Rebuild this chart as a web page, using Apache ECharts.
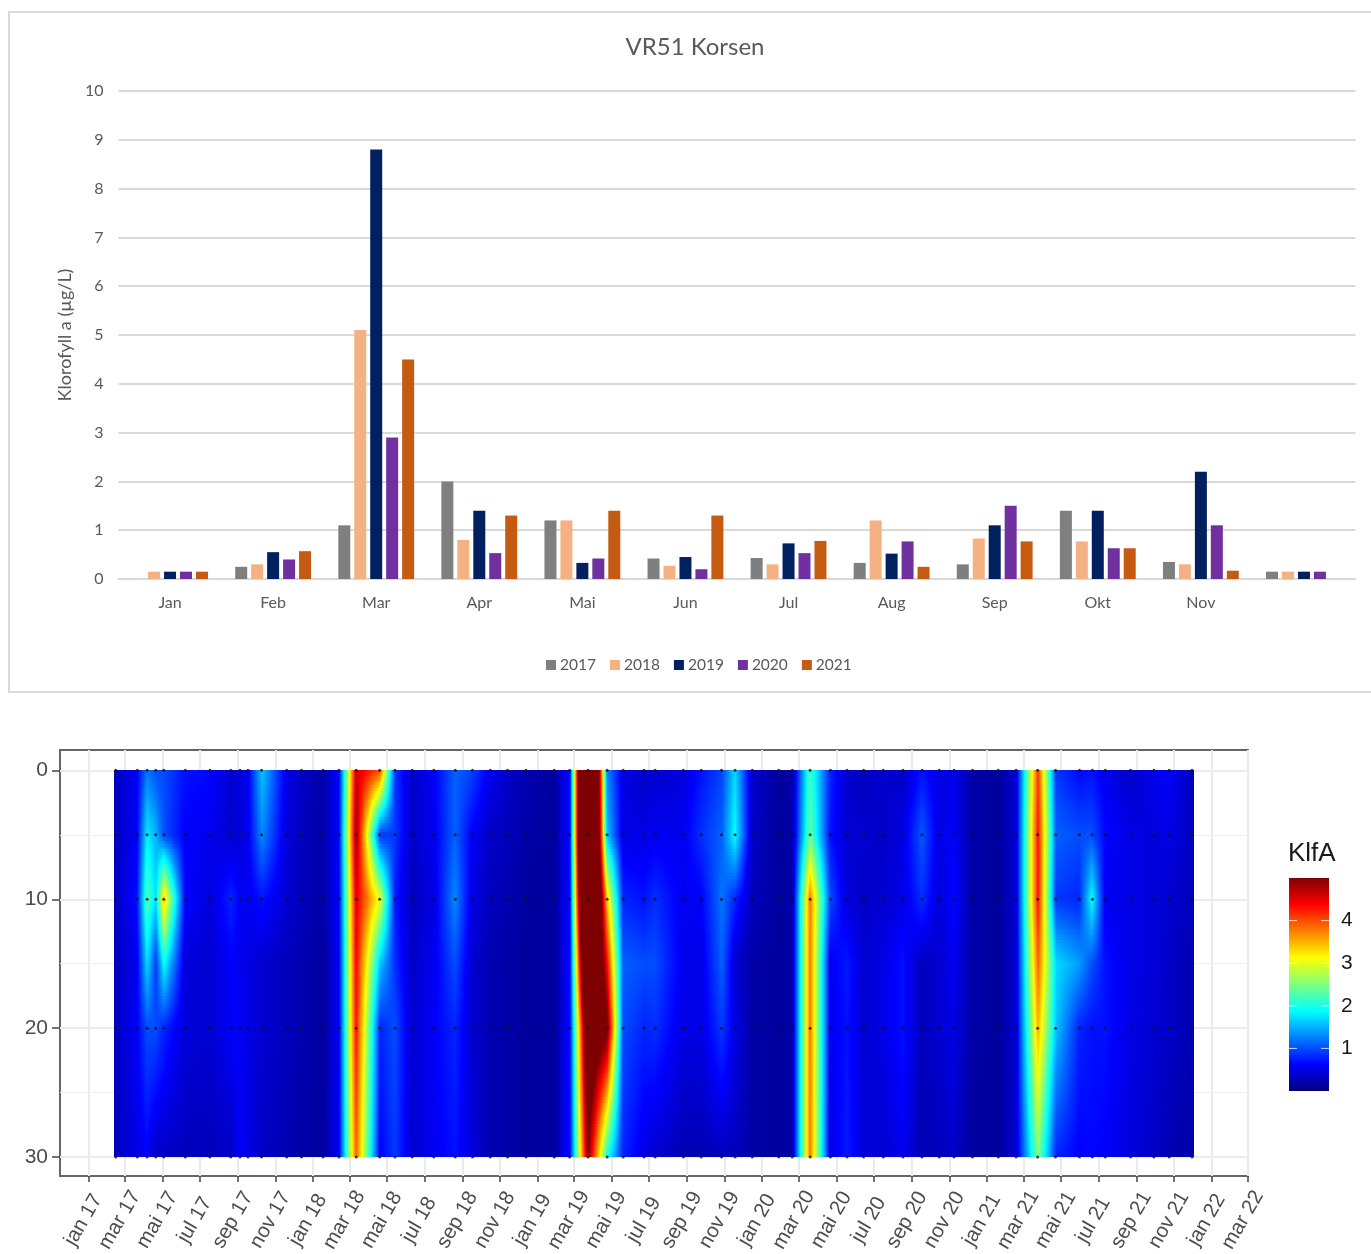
<!DOCTYPE html>
<html><head><meta charset="utf-8">
<style>html,body{margin:0;padding:0;background:#fff}#c{width:1371px;height:1254px}</style>
<script src="https://cdn.jsdelivr.net/npm/echarts@6/dist/echarts.min.js"></script>
</head><body><div id="c"></div>
<script>
// ---------- bar chart data ----------
const months = ['Jan','Feb','Mar','Apr','Mai','Jun','Jul','Aug','Sep','Okt','Nov',''];
const y2017 = [null,0.25,1.1,2.0,1.2,0.42,0.43,0.33,0.3,1.4,0.35,0.15];
const y2018 = [0.15,0.3,5.1,0.8,1.2,0.27,0.3,1.2,0.83,0.77,0.3,0.15];
const y2019 = [0.15,0.55,8.8,1.4,0.33,0.45,0.73,0.52,1.1,1.4,2.2,0.15];
const y2020 = [0.15,0.4,2.9,0.53,0.42,0.2,0.53,0.77,1.5,0.63,1.1,0.15];
const y2021 = [0.15,0.57,4.5,1.3,1.4,1.3,0.78,0.25,0.77,0.63,0.17,null];
const barNames = ['2017','2018','2019','2020','2021'];
const barColors = ['#7f7f7f','#f4b183','#002060','#7030a0','#c55a11'];

// ---------- depth/time section data ----------
const sampleDepths = [0,5,10,20,30];   // depths carrying sample dots
const readDepths = [0,5,10,15,20,30];  // depths read off the colour field
// sampling dates, days since 2017-01-01
const sampleDays = [44,79,95,109,122,157,197,231,246,259,281,322,346,381,407,435,473,498,526,561,
  596,624,653,681,711,757,782,812,843,869,903,921,967,996,1029,1051,1079,1122,1144,1173,
  1206,1233,1260,1292,1324,1355,1383,1407,1437,1479,1508,1543,1572,1611,1632,1653,1694,1732,1757,1794];
const klfa0 = [.3,.6,1.2,1.0,1.0,.7,.65,.4,.45,.55,1.6,.5,.35,.2,.65,4.6,4.0,.9,.35,.6,
  1.1,.95,.55,.35,.25,.15,.7,10,1.3,.5,.35,.4,.45,.7,.95,1.7,.4,.15,.2,2.2,
  .8,.4,.3,.4,.35,.7,.5,.5,.2,.15,.4,4.1,.9,.65,.7,.55,.35,.55,.6,.3];
const klfa5 = [.3,.6,1.8,1.5,1.0,.6,.55,.4,.45,.55,1.3,.45,.3,.2,.65,4.9,.9,.9,.35,.55,
  1.1,.6,.35,.3,.2,.15,.7,10,1.6,.5,.5,.55,.55,.85,1.1,1.9,.35,.15,.2,2.4,
  .7,.4,.4,.35,.5,1.05,.5,.6,.2,.15,.4,4.3,1.1,1.0,1.0,.65,.5,.45,.5,.3];
const klfa10 = [.3,.7,2.3,1.7,3.4,.65,.45,.8,.6,.55,.7,.4,.3,.2,.65,4.5,3.0,.75,.3,.5,
  1.3,.5,.3,.25,.15,.15,.7,9,3.4,.8,.7,.85,.55,.6,1.2,.8,.3,.15,.2,3.8,
  1.0,.45,.35,.4,.5,.85,.45,.65,.2,.15,.4,4.3,.9,.8,1.9,.55,.5,.45,.4,.3];
const klfa15 = [.3,.55,1.7,.9,1.9,.45,.4,.6,.55,.5,.4,.3,.25,.15,.6,4.4,1.6,.85,.35,.55,
  1.0,.4,.25,.2,.15,.15,.7,7.5,4.4,1.1,1.0,1.0,.55,.5,1.1,.4,.2,.15,.2,3.8,
  .55,.75,.4,.5,.7,.3,.4,.55,.2,.15,.4,3.9,1.7,1.4,1.0,.7,.5,.45,.35,.25];
const klfa20 = [.3,.6,1.0,1.0,.8,.45,.4,.6,.6,.5,.4,.3,.25,.15,.6,4.3,.8,1.0,.4,.6,
  .8,.4,.25,.2,.15,.15,.7,6.0,5.2,1.0,.8,.85,.5,.5,.9,.5,.2,.15,.2,3.8,
  .55,.7,.4,.5,.7,.3,.4,.5,.2,.15,.4,3.5,1.6,.8,.7,.7,.5,.4,.35,.25];
const klfa30 = [.3,.5,.6,.35,.35,.3,.3,.35,.6,.5,.35,.25,.2,.15,.6,3.9,.6,.9,.4,.55,
  .7,.45,.25,.2,.15,.15,.7,5.0,2.0,.8,.5,.4,.25,.25,.3,.3,.2,.15,.2,3.8,
  .5,.75,.45,.4,.55,.25,.3,.35,.15,.15,.4,2.5,.8,.6,.65,.6,.45,.35,.25,.2];
const klfaRows = [klfa0,klfa5,klfa10,klfa15,klfa20,klfa30];

const tickDates = ['2017-01-01','2017-03-01','2017-05-01','2017-07-01','2017-09-01','2017-11-01',
  '2018-01-01','2018-03-01','2018-05-01','2018-07-01','2018-09-01','2018-11-01',
  '2019-01-01','2019-03-01','2019-05-01','2019-07-01','2019-09-01','2019-11-01',
  '2020-01-01','2020-03-01','2020-05-01','2020-07-01','2020-09-01','2020-11-01',
  '2021-01-01','2021-03-01','2021-05-01','2021-07-01','2021-09-01','2021-11-01',
  '2022-01-01','2022-03-01'];
const tickLabels = ['jan 17','mar 17','mai 17','jul 17','sep 17','nov 17',
  'jan 18','mar 18','mai 18','jul 18','sep 18','nov 18',
  'jan 19','mar 19','mai 19','jul 19','sep 19','nov 19',
  'jan 20','mar 20','mai 20','jul 20','sep 20','nov 20',
  'jan 21','mar 21','mai 21','jul 21','sep 21','nov 21',
  'jan 22','mar 22'];
const depthTicks = [0,10,20,30];
const depthMinor = [5,15,25];
const legendTicks = [1,2,3,4];

// ---------- colour scale ----------
const rampMax = 5;
const ramp = [[0,0,127],[0,0,255],[0,127,255],[0,255,255],[127,255,127],[255,255,0],[255,127,0],[255,0,0],[127,0,0]];
function colorAt(v){
  const p = Math.max(0,Math.min(1,v/rampMax))*(ramp.length-1);
  const i = Math.min(ramp.length-2,Math.floor(p)), f = p-i;
  const c = ramp[i].map((a,k)=>Math.round(a+(ramp[i+1][k]-a)*f));
  return 'rgb('+c.join(',')+')';
}
function gradStops(v0,v1){
  const ts=[0,1];
  if(v0!==v1){
    for(let k=0;k<ramp.length;k++){
      const t=(k/(ramp.length-1)*rampMax-v0)/(v1-v0);
      if(t>0&&t<1) ts.push(t);
    }
    ts.sort((a,b)=>a-b);
  }
  return ts.map(t=>({offset:t,color:colorAt(v0+(v1-v0)*t)}));
}

// ---------- series data ----------
const DAY0 = Date.UTC(2017,0,1);
const tickDays = tickDates.map(d=>Math.round((Date.parse(d+'T00:00:00Z')-DAY0)/864e5));
const labelOf = {}; tickDays.forEach((d,i)=>labelOf[d]=tickLabels[i]);

const cells = [];
for(let i=0;i<sampleDays.length-1;i++){
  for(let j=0;j<readDepths.length-1;j++){
    cells.push([sampleDays[i],sampleDays[i+1],readDepths[j],readDepths[j+1],
      klfaRows[j][i],klfaRows[j][i+1],klfaRows[j+1][i],klfaRows[j+1][i+1]]);
  }
}
const points = [];
sampleDepths.forEach(d=>sampleDays.forEach(t=>points.push([t,d])));

function renderCell(params,api){
  const L=api.value(0),R=api.value(1),T=api.value(2),B=api.value(3);
  const a=api.value(4),b=api.value(5),c=api.value(6),d=api.value(7);
  const tl=api.coord([L,T]),br=api.coord([R,B]);
  const x0=Math.round(tl[0])-(L===sampleDays[0]?2:0);
  const x1=Math.round(br[0])+(R===sampleDays[sampleDays.length-1]?2:0);
  const h=br[1]-tl[1], n=Math.ceil(h/3), kids=[];
  for(let s=0;s<n;s++){
    const f=(s+.5)/n, v0=a+(c-a)*f, v1=b+(d-b)*f;
    const y0=Math.round(tl[1]+h*s/n), y1=Math.round(tl[1]+h*(s+1)/n);
    kids.push({type:'rect',shape:{x:x0,y:y0,width:x1-x0,height:y1-y0},
      style:{fill:{type:'linear',x:0,y:0,x2:1,y2:0,colorStops:gradStops(v0,v1)}}});
  }
  return {type:'group',children:kids};
}
function renderBar(params,api){
  const tl=api.coord([0,rampMax]),br=api.coord([1,0]);
  const stops=ramp.map((c,k)=>({offset:1-k/(ramp.length-1),color:'rgb('+c.join(',')+')'})).reverse();
  const kids=[{type:'rect',shape:{x:tl[0],y:tl[1],width:br[0]-tl[0],height:br[1]-tl[1]},
    style:{fill:{type:'linear',x:0,y:0,x2:0,y2:1,colorStops:stops}}}];
  legendTicks.forEach(t=>{
    const y=api.coord([0,t])[1];
    kids.push({type:'line',shape:{x1:tl[0],y1:y,x2:tl[0]+8,y2:y},style:{stroke:'#fff',lineWidth:1,opacity:.8}});
    kids.push({type:'line',shape:{x1:br[0]-8,y1:y,x2:br[0],y2:y},style:{stroke:'#fff',lineWidth:1,opacity:.8}});
  });
  return {type:'group',children:kids};
}

const F1='Lato, "Open Sans", sans-serif', F2='"Liberation Sans", Arial, sans-serif';
const barData=[y2017,y2018,y2019,y2020,y2021];
const barSeries=barNames.map((n,i)=>({name:n,type:'bar',xAxisIndex:0,yAxisIndex:0,data:barData[i],
  barWidth:12,barGap:'33%',itemStyle:{color:barColors[i]},animation:false}));

const option={
  animation:false,backgroundColor:'#fff',
  title:[
    {text:'VR51 Korsen',left:690,top:30,textAlign:'center',textStyle:{fontFamily:F1,fontSize:24,fontWeight:'normal',color:'#595959'}},
    {text:'KlfA',left:1283,top:836,textStyle:{fontFamily:F2,fontSize:26,fontWeight:'normal',color:'#1a1a1a'}}
  ],
  legend:{data:barNames,left:541,top:652,itemWidth:10,itemHeight:10,itemGap:14,icon:'rect',
    textStyle:{fontFamily:F1,fontSize:15.5,color:'#595959',padding:[0,0,0,-1]}},
  graphic:[{type:'rect',shape:{x:9,y:12,width:1380,height:680},style:{fill:'none',stroke:'#d9d9d9',lineWidth:2},silent:true}],
  grid:[
    {left:118.5,top:91,width:1237,height:488,outerBoundsMode:'none'},
    {left:60,top:750,width:1188,height:426,show:true,borderColor:'#666',borderWidth:2,backgroundColor:'transparent',outerBoundsMode:'none'},
    {left:1289,top:878,width:40,height:213,outerBoundsMode:'none'}
  ],
  xAxis:[
    {gridIndex:0,type:'category',data:months,axisTick:{show:false},
      axisLine:{lineStyle:{color:'#d9d9d9',width:2}},
      axisLabel:{fontFamily:F1,fontSize:16,color:'#595959',margin:16,interval:0}},
    {gridIndex:1,type:'value',min:-46.7,max:1885,
      axisLine:{show:false,onZero:false},
      axisTick:{show:true,length:6,lineStyle:{color:'#444',width:1.5},customValues:tickDays},
      axisLabel:{customValues:tickDays,rotate:60,fontFamily:F2,fontSize:20.5,lineHeight:12,color:'#4d4d4d',margin:47,
        align:'center',verticalAlign:'bottom',
        formatter:v=>labelOf[Math.round(v)]||''},
      splitLine:{show:true,lineStyle:{color:'#ebebeb',width:2}}},
    {gridIndex:2,type:'value',min:0,max:1,show:false}
  ],
  yAxis:[
    {gridIndex:0,type:'value',min:0,max:10,interval:1,
      name:'Klorofyll a (µg/L)',nameLocation:'middle',nameGap:43,nameRotate:90,
      nameTextStyle:{fontFamily:F1,fontSize:18,color:'#595959'},
      axisLine:{show:false},axisTick:{show:false},
      axisLabel:{fontFamily:F1,fontSize:16,color:'#595959',margin:15},
      splitLine:{lineStyle:{color:'#d9d9d9',width:2}}},
    {gridIndex:1,type:'value',inverse:true,min:-1.58,max:31.47,
      axisLine:{show:false,onZero:false},
      axisTick:{show:true,length:8,lineStyle:{color:'#444',width:1.5},customValues:depthTicks},
      axisLabel:{customValues:depthTicks,fontFamily:F2,fontSize:21,color:'#4d4d4d',margin:12},
      splitLine:{show:true,lineStyle:{color:'#ebebeb',width:2}}},
    {gridIndex:2,type:'value',min:0,max:rampMax,interval:1,position:'right',
      axisLine:{show:false},axisTick:{show:false},splitLine:{show:false},
      axisLabel:{fontFamily:F2,fontSize:21,color:'#1a1a1a',margin:12,showMinLabel:false,showMaxLabel:false}}
  ],
  series:[
    ...barSeries,
    {type:'line',xAxisIndex:1,yAxisIndex:1,data:[],z:1,silent:true,animation:false,
      markLine:{silent:true,symbol:'none',label:{show:false},animation:false,z:0,
        lineStyle:{color:'#f0f0f0',width:1,type:'solid'},data:depthMinor.map(d=>({yAxis:d}))}},
    {type:'custom',name:'KlfA',xAxisIndex:1,yAxisIndex:1,data:cells,renderItem:renderCell,z:2,silent:true,animation:false,
      encode:{x:[0,1],y:[2,3]},dimensions:['l','r','t','b','a','b2','c','d'],progressive:0},
    {type:'scatter',xAxisIndex:1,yAxisIndex:1,data:points,symbol:'circle',symbolSize:3,z:3,silent:true,animation:false,
      itemStyle:{color:'#111'},clip:false},
    {type:'custom',xAxisIndex:2,yAxisIndex:2,data:[[0,0]],renderItem:renderBar,silent:true,animation:false,z:2}
  ]
};
const chart=echarts.init(document.getElementById('c'),null,{renderer:'canvas'});
chart.setOption(option);
</script></body></html>
